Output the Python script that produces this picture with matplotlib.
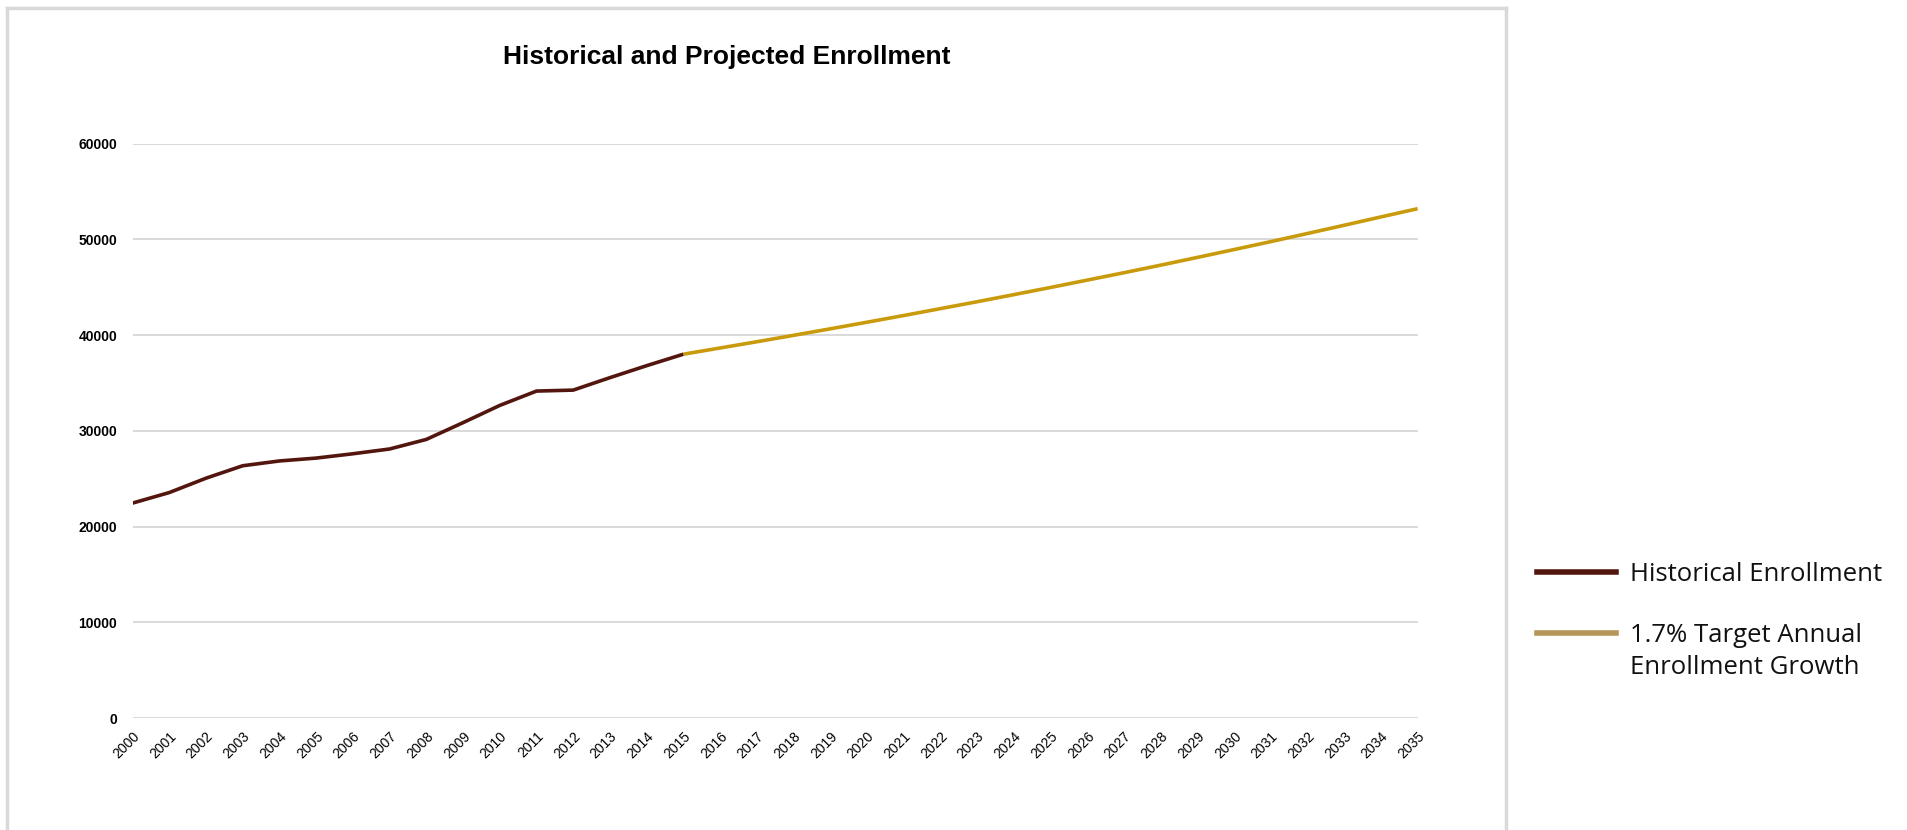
import matplotlib
matplotlib.use("Agg")
import matplotlib.pyplot as plt
from matplotlib.lines import Line2D

# ---- data ----
hist_years = list(range(2000, 2016))
hist_values = [22450, 23550, 25050, 26350, 26850, 27150, 27600, 28100, 29100,
               30850, 32650, 34150, 34250, 35550, 36800, 38000]
proj_years = list(range(2015, 2036))
proj_values = [38000, 38650, 39300, 39970, 40650, 41340, 42040, 42760, 43480,
               44220, 44970, 45740, 46510, 47300, 48110, 48930, 49760, 50610,
               51470, 52340, 53200]
x_labels = [str(y) for y in range(2000, 2036)]
y_ticks = [0, 10000, 20000, 30000, 40000, 50000, 60000]
title = "Historical and Projected Enrollment"
legend_labels = ["Historical Enrollment", "1.7% Target Annual\nEnrollment Growth"]

hist_color = "#53160f"
proj_color = "#c99b0c"
legend_proj_color = "#b5955a"

W, H = 1908, 830
fig = plt.figure(figsize=(W / 100, H / 100), dpi=100)
fig.patch.set_facecolor("white")

ax = fig.add_axes([132.6 / W, 1 - 718 / H, (1417.6 - 132.6) / W, (718 - 143.6) / H])
ax.plot(hist_years, hist_values, color=hist_color, lw=2.6, solid_capstyle="butt", zorder=3)
ax.plot(proj_years, proj_values, color=proj_color, lw=2.6, solid_capstyle="butt", zorder=2)

ax.set_xlim(2000, 2035)
ax.set_ylim(0, 60000)
ax.set_yticks(y_ticks)
ax.set_yticklabels([str(v) for v in y_ticks], fontsize=10, fontweight="bold",
                   family=["Liberation Sans", "DejaVu Sans"])
ax.set_xticks(list(range(2000, 2036)))
ax.set_xticklabels(x_labels, rotation=45, ha="right", rotation_mode="anchor",
                   fontsize=10, family=["Liberation Sans", "DejaVu Sans"])
ax.tick_params(axis="both", length=0)
ax.tick_params(axis="y", pad=11)
ax.tick_params(axis="x", pad=8)
ax.grid(axis="y", color="#d9d9d9", lw=1.4)
ax.set_axisbelow(True)
for s in ax.spines.values():
    s.set_visible(False)

fig.text(727 / W, 1 - 57 / H, title, ha="center", va="center", fontsize=19,
         fontweight="bold", family=["Liberation Sans", "DejaVu Sans"])

# frame around chart area (open at bottom)
fc = "#d9d9d9"
fig.add_artist(Line2D([7 / W, 7 / W], [0, 1 - 8 / H], color=fc, lw=2.5, transform=fig.transFigure))
fig.add_artist(Line2D([7 / W, 1506 / W], [1 - 8 / H, 1 - 8 / H], color=fc, lw=2.5, transform=fig.transFigure))
fig.add_artist(Line2D([1506 / W, 1506 / W], [0, 1 - 8 / H], color=fc, lw=2.5, transform=fig.transFigure))

# legend (drawn manually for exact placement)
leg_colors = [hist_color, legend_proj_color]
leg_y = [572, 633]
for lab, col, yy in zip(legend_labels, leg_colors, leg_y):
    fig.add_artist(Line2D([1537 / W, 1616 / W], [1 - yy / H, 1 - yy / H], color=col,
                          lw=4.0, transform=fig.transFigure))
    fig.text(1630 / W, 1 - (yy - 10) / H, lab, ha="left", va="top", fontsize=18.5,
             family=["Open Sans", "DejaVu Sans"], linespacing=1.38, color="#111111")

fig.savefig("out.png", dpi=100, facecolor="white")
